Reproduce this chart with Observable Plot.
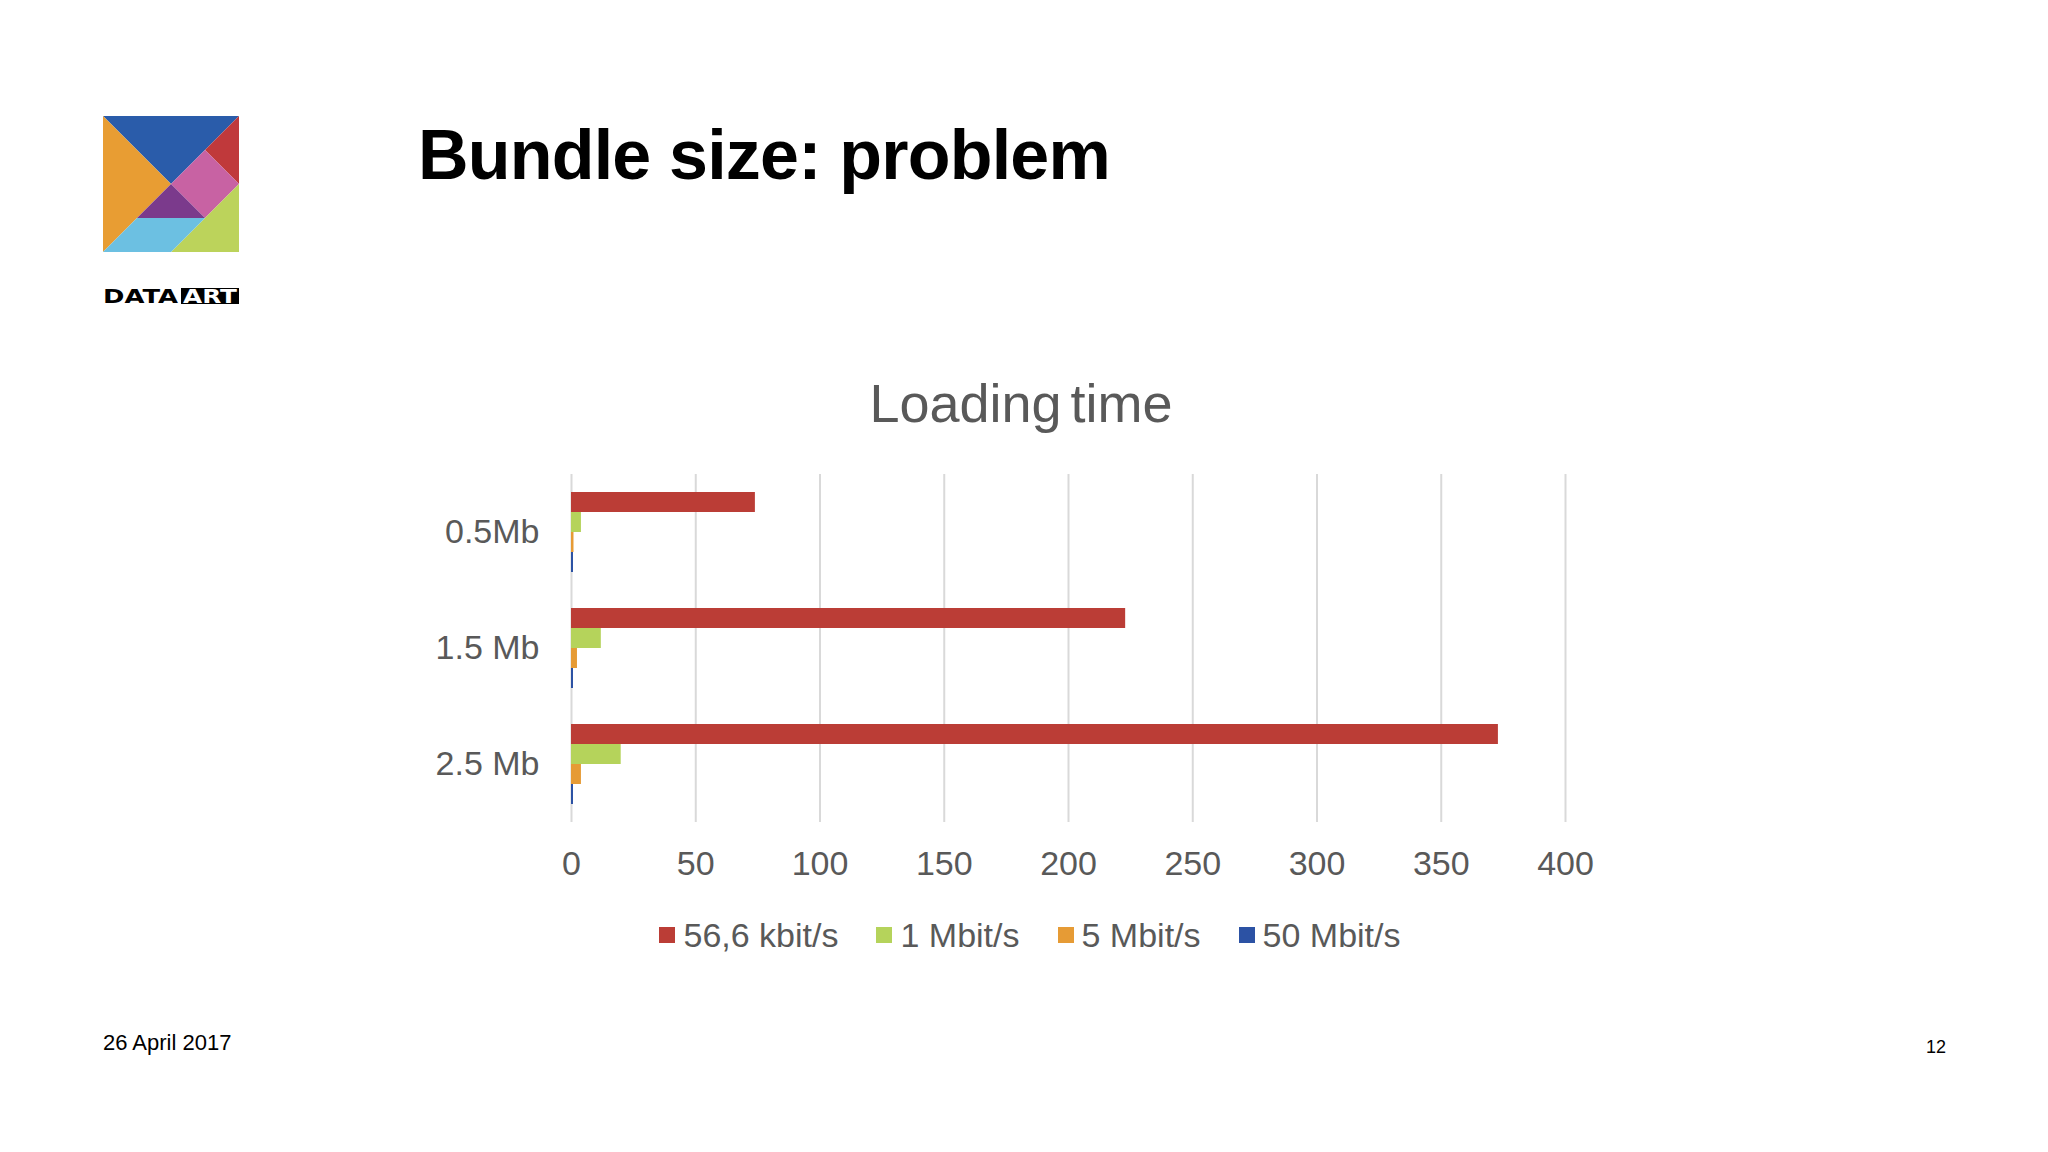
<!DOCTYPE html>
<html>
<head>
<meta charset="utf-8">
<script src="https://cdn.jsdelivr.net/npm/d3@7"></script>
<script src="https://cdn.jsdelivr.net/npm/@observablehq/plot@0.6"></script>
<style>
  html, body { margin: 0; padding: 0; background: #ffffff; }
  body { width: 2048px; height: 1152px; position: relative; overflow: hidden;
         font-family: "Liberation Sans", Arial, sans-serif; }
  #logo { position: absolute; left: 103px; top: 116px; }
  #brand { position: absolute; left: 103px; top: 286px; }
  #title { position: absolute; left: 418px; top: 120px; font-size: 70px; line-height: 70px;
           font-weight: bold; color: #000; letter-spacing: -0.8px; white-space: nowrap; }
  #ctitle { position: absolute; left: 521px; width: 1000px; top: 376px; font-size: 54px; line-height: 54px;
            color: #595959; text-align: center; word-spacing: -6px; white-space: nowrap; }
  #chart { position: absolute; left: 400px; top: 460px; }
  #legend { position: absolute; left: 530px; width: 1000px; top: 918px; height: 34px;
            display: flex; justify-content: center; align-items: center;
            font-size: 34px; line-height: 34px; color: #595959; white-space: nowrap; }
  #legend .item { display: flex; align-items: center; margin: 0 19px; }
  #legend .sw { width: 16px; height: 16px; margin-right: 8px; }
  #date { position: absolute; left: 103px; top: 1032px; font-size: 22px; line-height: 22px; color: #000; }
  #page { position: absolute; right: 102px; top: 1038px; font-size: 18px; line-height: 18px; color: #000; }
</style>
</head>
<body>
<svg id="logo" width="136" height="136" viewBox="0 0 100 100">
  <polygon points="0,0 100,0 50,50" fill="#2a5caa"/>
  <polygon points="100,0 100,50 75,25" fill="#c0393b"/>
  <polygon points="0,0 50,50 0,100" fill="#e89d33"/>
  <polygon points="50,50 75,25 100,50 75,75" fill="#c862a3"/>
  <polygon points="50,50 25,75 75,75" fill="#7b3a8c"/>
  <polygon points="100,50 100,100 50,100" fill="#bcd35b"/>
  <polygon points="0,100 25,75 75,75 50,100" fill="#6cc0e2"/>
</svg>
<svg id="brand" width="136" height="20">
  <text x="0" y="17" font-family="DejaVu Sans" font-weight="bold" font-size="19" textLength="75" lengthAdjust="spacingAndGlyphs" fill="#000">DATA</text>
  <rect x="78" y="2" width="58" height="16" fill="#000"/>
  <text x="80" y="17" font-family="DejaVu Sans" font-weight="bold" font-size="19" textLength="54" lengthAdjust="spacingAndGlyphs" fill="#fff">ART</text>
</svg>
<div id="title">Bundle size: problem</div>
<div id="ctitle">Loading time</div>
<div id="chart"></div>
<div id="legend"></div>
<div id="date">26 April 2017</div>
<div id="page">12</div>
<script>
// ---- data ----
const sizes = ["0.5Mb", "1.5 Mb", "2.5 Mb"];
const series = ["56,6 kbit/s", "1 Mbit/s", "5 Mbit/s", "50 Mbit/s"];
const colors = ["#bb3d36", "#b5d35b", "#e69b35", "#2c52a4"];
const kbit56 = [74, 223, 373];
const mbit1 = [4, 12, 20];
const mbit5 = [1, 2.4, 4];
const mbit50 = [0.8, 0.8, 0.8];
const xTicks = [0, 50, 100, 150, 200, 250, 300, 350, 400];

const valuesBySeries = [kbit56, mbit1, mbit5, mbit50];
const rows = sizes.flatMap((s, i) => series.map((k, j) => ({size: s, series: k, value: valuesBySeries[j][i]})));

const chart = Plot.plot({
  width: 1300,
  height: 430,
  marginLeft: 171,
  marginRight: 135,
  marginTop: 14,
  marginBottom: 68,
  style: {fontFamily: "'Liberation Sans', Arial, sans-serif", fontSize: "34px", color: "#595959", background: "transparent", overflow: "visible"},
  facet: {data: rows, y: "size", marginLeft: 171, marginRight: 0, marginTop: 0, marginBottom: 0, label: null},
  fy: {domain: sizes, paddingInner: 0.31, paddingOuter: 0.155, axis: "left", label: null, tickSize: 0, tickPadding: 32},
  y: {domain: series, axis: null, padding: 0},
  x: {domain: [0, 400], ticks: xTicks, tickSize: 0, tickPadding: 46, label: null, tickFormat: d => String(d)},
  color: {domain: series, range: colors},
  marks: [
    Plot.ruleX(xTicks, {stroke: "#d9d9d9", strokeWidth: 2, insetTop: -18, insetBottom: -18}),
    Plot.barX(rows, {x: "value", y: "series", fill: "series"})
  ]
});
document.getElementById("chart").appendChild(chart);

const legend = document.getElementById("legend");
series.forEach((name, i) => {
  const item = document.createElement("div");
  item.className = "item";
  const sw = document.createElement("div");
  sw.className = "sw";
  sw.style.background = colors[i];
  const label = document.createElement("span");
  label.textContent = name;
  item.appendChild(sw);
  item.appendChild(label);
  legend.appendChild(item);
});
</script>
</body>
</html>
